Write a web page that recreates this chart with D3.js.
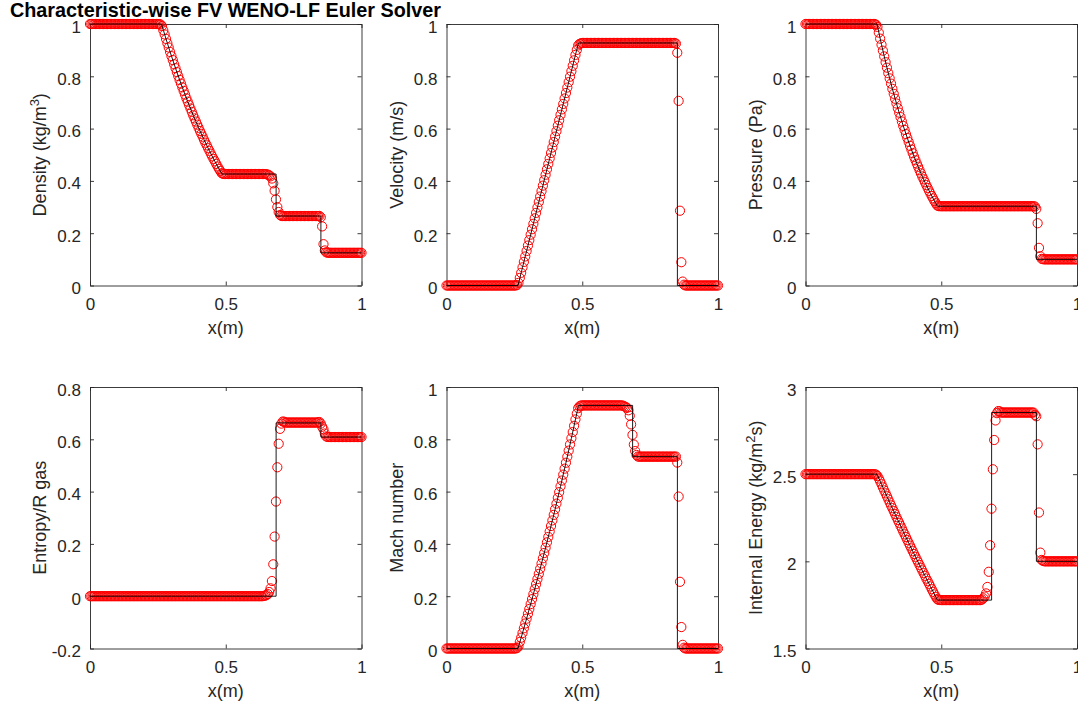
<!DOCTYPE html>
<html>
<head>
<meta charset="utf-8">
<script src="https://cdn.jsdelivr.net/npm/d3@7"></script>
<style>
  body { margin: 0; background: #fff; }
  svg { display: block; font-family: "Liberation Sans", Arial, Helvetica, sans-serif; }
</style>
</head>
<body>
<svg id="fig" width="1078" height="708"></svg>
<script>
// ---- numerical solution, 201 cells on x = 0..1 ----
var density = [
  1,1,1,1,1,1,1,1,1,1, 1,1,1,1,1,1,1,1,1,1, 1,1,1,1,1,1,1,1,1,1,
  1,1,1,1,1,1,1,1,1,1, 1,1,1,1,1,1,1,1,1,1, 1,1,
  0.998,0.992,0.976,0.960,0.943,0.926,0.910,0.893,0.877,0.862,
  0.846,0.831,0.816,0.801,0.786,0.772,0.758,0.744,0.730,0.716,
  0.703,0.690,0.677,0.664,0.651,0.639,0.627,0.615,0.603,0.591,
  0.580,0.569,0.557,0.546,0.536,0.525,0.515,0.504,0.494,0.484,
  0.475,0.465,0.455,0.446,0.438,0.4295,0.4268,0.4264,
  0.4263,0.4263,0.4263,0.4263,0.4263,0.4263,0.4263,0.4263,0.4263,0.4263,
  0.4263,0.4263,0.4263,0.4263,0.4263,0.4263,0.4263,0.4263,0.4263,0.4263,
  0.4263,0.4263,0.4263,0.4263,0.4263,0.4263,0.4263,0.4263,0.4263,0.4263,
  0.4254,0.4239,0.4214,0.4173,0.4090,0.3907,0.3623,0.3292,0.2998,0.2811,0.2699,0.2659,
  0.2656,0.2656,0.2656,0.2656,0.2656,0.2656,0.2656,0.2656,0.2656,0.2656,
  0.2656,0.2656,0.2656,0.2656,0.2656,0.2656,0.2656,0.2656,0.2656,0.2656,
  0.2656,0.2656,0.2656,0.2656,0.2656,0.2656,0.2656,
  0.266,0.261,0.226,0.158,0.134,0.127,0.1255,
  0.125,0.125,0.125,0.125,0.125,0.125,0.125,0.125,0.125,0.125,
  0.125,0.125,0.125,0.125,0.125,0.125,0.125,0.125,0.125,0.125,
  0.125,0.125,0.125,0.125,0.125
];
var velocity = [
  0,0,0,0,0,0,0,0,0,0, 0,0,0,0,0,0,0,0,0,0, 0,0,0,0,0,0,0,0,0,0,
  0,0,0,0,0,0,0,0,0,0, 0,0,0,0,0,0,0,0,0,0, 0,0,
  0.002,0.010,0.029,0.0485,0.0694,0.0902,0.1110,0.1319,0.1527,0.1735,
  0.1944,0.2152,0.2360,0.2569,0.2777,0.2985,0.3194,0.3402,0.3610,0.3819,
  0.4027,0.4235,0.4444,0.4652,0.4860,0.5069,0.5277,0.5485,0.5694,0.5902,
  0.6110,0.6319,0.6527,0.6735,0.6944,0.7152,0.7360,0.7569,0.7777,0.7985,
  0.8194,0.8402,0.8610,0.8819,0.9010,0.918,0.924,0.926,
  0.9275,0.9275,0.9275,0.9275,0.9275,0.9275,0.9275,0.9275,0.9275,0.9275,
  0.9275,0.9275,0.9275,0.9275,0.9275,0.9275,0.9275,0.9275,0.9275,0.9275,
  0.9275,0.9275,0.9275,0.9275,0.9275,0.9275,0.9275,0.9275,0.9275,0.9275,
  0.9275,0.9275,0.9275,0.9275,0.9275,0.9275,0.9275,0.9275,0.9275,0.9275,0.9275,0.9275,
  0.9275,0.9275,0.9275,0.9275,0.9275,0.9275,0.9275,0.9275,0.9275,0.9275,
  0.9275,0.9275,0.9275,0.9275,0.9275,0.9275,0.9275,0.9275,0.9275,0.9275,
  0.9275,0.9275,0.9275,0.9275,0.9275,0.9275,0.9275,
  0.925,0.890,0.706,0.286,0.089,0.015,0.003,
  0,0,0,0,0,0,0,0,0,0, 0,0,0,0,0,0,0,0,0,0, 0,0,0,0,0
];
var pressure = [
  1,1,1,1,1,1,1,1,1,1, 1,1,1,1,1,1,1,1,1,1, 1,1,1,1,1,1,1,1,1,1,
  1,1,1,1,1,1,1,1,1,1, 1,1,1,1,1,1,1,1,1,1, 1,1,
  0.997,0.989,0.967,0.944,0.921,0.898,0.876,0.854,0.833,0.812,
  0.792,0.772,0.752,0.733,0.714,0.696,0.678,0.661,0.644,0.627,
  0.610,0.595,0.579,0.564,0.549,0.534,0.520,0.506,0.492,0.479,
  0.466,0.454,0.441,0.429,0.417,0.406,0.395,0.384,0.373,0.362,
  0.352,0.342,0.333,0.323,0.3145,0.3062,0.3036,0.3032,
  0.3031,0.3031,0.3031,0.3031,0.3031,0.3031,0.3031,0.3031,0.3031,0.3031,
  0.3031,0.3031,0.3031,0.3031,0.3031,0.3031,0.3031,0.3031,0.3031,0.3031,
  0.3031,0.3031,0.3031,0.3031,0.3031,0.3031,0.3031,0.3031,0.3031,0.3031,
  0.3031,0.3031,0.3031,0.3031,0.3031,0.3031,0.3031,0.3031,0.3031,0.3031,0.3031,0.3031,
  0.3031,0.3031,0.3031,0.3031,0.3031,0.3031,0.3031,0.3031,0.3031,0.3031,
  0.3031,0.3031,0.3031,0.3031,0.3031,0.3031,0.3031,0.3031,0.3031,0.3031,
  0.3031,0.3031,0.3031,0.3031,0.3031,0.3031,0.3031,
  0.302,0.293,0.238,0.144,0.112,0.102,0.1005,
  0.1,0.1,0.1,0.1,0.1,0.1,0.1,0.1,0.1,0.1, 0.1,0.1,0.1,0.1,0.1,0.1,0.1,0.1,0.1,0.1,
  0.1,0.1,0.1,0.1,0.1
];
var entropy = [
  0,0,0,0,0,0,0,0,0,0, 0,0,0,0,0,0,0,0,0,0, 0,0,0,0,0,0,0,0,0,0,
  0,0,0,0,0,0,0,0,0,0, 0,0,0,0,0,0,0,0,0,0, 0,0,0,0,0,0,0,0,0,0,
  0,0,0,0,0,0,0,0,0,0, 0,0,0,0,0,0,0,0,0,0, 0,0,0,0,0,0,0,0,0,0,
  0,0,0,0,0,0,0,0,0,0, 0,0,0,0,0,0,0,0,0,0, 0,0,0,0,0,0,0,0,0,0,
  0,0,0,0,0,0,0,0,
  0.001,0.002,0.004,0.008,0.016,0.030,0.058,0.122,0.228,0.362,0.493,0.583,0.640,0.660,
  0.668,0.667,
  0.664,0.664,0.664,0.664,0.664,0.664,0.664,0.664,0.664,0.664,
  0.664,0.664,0.664,0.664,0.664,0.664,0.664,0.664,0.664,0.664,
  0.664,0.664,0.664,0.664,0.665,
  0.666,0.660,0.648,0.638,0.622,0.611,0.609,
  0.6086,0.6086,0.6086,0.6086,0.6086,0.6086,0.6086,0.6086,0.6086,0.6086,
  0.6086,0.6086,0.6086,0.6086,0.6086,0.6086,0.6086,0.6086,0.6086,0.6086,
  0.6086,0.6086,0.6086,0.6086,0.6086
];
var mach = [
  0,0,0,0,0,0,0,0,0,0, 0,0,0,0,0,0,0,0,0,0, 0,0,0,0,0,0,0,0,0,0,
  0,0,0,0,0,0,0,0,0,0, 0,0,0,0,0,0,0,0,0,0, 0,0,
  0.002,0.008,0.025,0.0413,0.0593,0.0774,0.0956,0.1140,0.1325,0.1511,
  0.1698,0.1887,0.2078,0.2269,0.2462,0.2657,0.2853,0.3050,0.3249,0.3450,
  0.3652,0.3855,0.4060,0.4267,0.4475,0.4685,0.4897,0.5109,0.5324,0.5541,
  0.5759,0.5979,0.6200,0.6423,0.6649,0.6876,0.7104,0.7335,0.7567,0.7802,
  0.8038,0.8276,0.8516,0.8759,0.898,0.919,0.926,0.929,
  0.9296,0.9296,0.9296,0.9296,0.9296,0.9296,0.9296,0.9296,0.9296,0.9296,
  0.9296,0.9296,0.9296,0.9296,0.9296,0.9296,0.9296,0.9296,0.9296,0.9296,
  0.9296,0.9296,0.9296,0.9296,0.9296,0.9296,0.9296,0.9296,0.9296,0.9296,
  0.9286,0.926,0.924,0.920,0.911,0.890,0.857,0.817,0.780,0.755,0.740,0.734,
  0.7337,0.7337,0.7337,0.7337,0.7337,0.7337,0.7337,0.7337,0.7337,0.7337,
  0.7337,0.7337,0.7337,0.7337,0.7337,0.7337,0.7337,0.7337,0.7337,0.7337,
  0.7337,0.7337,0.7337,0.7337,0.7337,0.7337,0.7337,
  0.734,0.711,0.581,0.255,0.082,0.014,0.003,
  0,0,0,0,0,0,0,0,0,0, 0,0,0,0,0,0,0,0,0,0, 0,0,0,0,0
];
var energy = [
  2.5,2.5,2.5,2.5,2.5,2.5,2.5,2.5,2.5,2.5, 2.5,2.5,2.5,2.5,2.5,2.5,2.5,2.5,2.5,2.5,
  2.5,2.5,2.5,2.5,2.5,2.5,2.5,2.5,2.5,2.5, 2.5,2.5,2.5,2.5,2.5,2.5,2.5,2.5,2.5,2.5,
  2.5,2.5,2.5,2.5,2.5,2.5,2.5,2.5,2.5,2.5, 2.5,2.5,
  2.497,2.489,2.475,2.459,2.442,2.424,2.407,2.390,2.373,2.356,
  2.338,2.321,2.305,2.288,2.271,2.254,2.237,2.221,2.204,2.188,
  2.171,2.155,2.139,2.122,2.106,2.090,2.074,2.058,2.042,2.026,
  2.010,1.995,1.979,1.963,1.948,1.932,1.917,1.901,1.886,1.871,
  1.856,1.840,1.825,1.810,1.7965,1.7835,1.779,1.778,
  1.7776,1.7776,1.7776,1.7776,1.7776,1.7776,1.7776,1.7776,1.7776,1.7776,
  1.7776,1.7776,1.7776,1.7776,1.7776,1.7776,1.7776,1.7776,1.7776,1.7776,
  1.7776,1.7776,1.7776,1.7776,1.7776,1.7776,1.7776,1.7776,1.7776,1.7776,
  1.781,1.788,1.798,1.816,1.853,1.940,2.092,2.302,2.528,2.696,2.808,2.850,
  2.862,2.860,
  2.8535,2.8535,2.8535,2.8535,2.8535,2.8535,2.8535,2.8535,2.8535,2.8535,
  2.8535,2.8535,2.8535,2.8535,2.8535,2.8535,2.8535,2.8535,2.8535,2.8535,
  2.8535,2.8535,2.8535,2.8535,2.8535,
  2.840,2.832,2.671,2.280,2.050,2.008,2.002,
  2,2,2,2,2,2,2,2,2,2, 2,2,2,2,2,2,2,2,2,2, 2,2,2,2,2
];

// ---- exact Riemann solution (black line), breakpoints ----
var exactX        = [0, 0.26336, 0.28, 0.30, 0.32, 0.34, 0.36, 0.38, 0.40, 0.42, 0.44, 0.46, 0.48, 0.48595, 0.68549, 0.68549, 0.85043, 0.85043, 1];
var exactDensity  = [1, 1, 0.9428, 0.8774, 0.8158, 0.7577, 0.7029, 0.6514, 0.6029, 0.5574, 0.5146, 0.4746, 0.4370, 0.4263, 0.4263, 0.2656, 0.2656, 0.125, 0.125];
var exactVelocity = [0, 0, 0.0694, 0.1527, 0.2360, 0.3194, 0.4027, 0.4860, 0.5694, 0.6527, 0.7360, 0.8194, 0.9027, 0.9275, 0.9275, 0.9275, 0.9275, 0, 0];
var exactPressure = [1, 1, 0.9208, 0.8327, 0.7520, 0.6781, 0.6105, 0.5488, 0.4925, 0.4412, 0.3945, 0.3522, 0.3138, 0.3031, 0.3031, 0.3031, 0.3031, 0.1, 0.1];
var exactEntropy  = [0, 0, 0, 0, 0, 0, 0, 0, 0, 0, 0, 0, 0, 0, 0, 0.6627, 0.6627, 0.6086, 0.6086];
var exactMach     = [0, 0, 0.0593, 0.1325, 0.2078, 0.2853, 0.3652, 0.4475, 0.5324, 0.6200, 0.7104, 0.8038, 0.9003, 0.9296, 0.9296, 0.7337, 0.7337, 0, 0];
var exactEnergy   = [2.5, 2.5, 2.4418, 2.3726, 2.3045, 2.2374, 2.1712, 2.1061, 2.0420, 1.9788, 1.9167, 1.8555, 1.7953, 1.7776, 1.7776, 2.8535, 2.8535, 2, 2];

// ---- axes ticks ----
var xTicks = [0, 0.5, 1];
var unitTicks = [0, 0.2, 0.4, 0.6, 0.8, 1];
var entropyTicks = [-0.2, 0, 0.2, 0.4, 0.6, 0.8];
var energyTicks = [1.5, 2, 2.5, 3];

var titleText = "Characteristic-wise FV WENO-LF Euler Solver";

var panels = [
  { vals: density,  exact: exactDensity,  col: 0, row: 0, yDomain: [0, 1],    yTicks: unitTicks,    label: ["Density (kg/m", "3", ")"] },
  { vals: velocity, exact: exactVelocity, col: 1, row: 0, yDomain: [0, 1],    yTicks: unitTicks,    label: ["Velocity (m/s)"] },
  { vals: pressure, exact: exactPressure, col: 2, row: 0, yDomain: [0, 1],    yTicks: unitTicks,    label: ["Pressure (Pa)"] },
  { vals: entropy,  exact: exactEntropy,  col: 0, row: 1, yDomain: [-0.2, 0.8], yTicks: entropyTicks, label: ["Entropy/R gas"] },
  { vals: mach,     exact: exactMach,     col: 1, row: 1, yDomain: [0, 1],    yTicks: unitTicks,    label: ["Mach number"] },
  { vals: energy,   exact: exactEnergy,   col: 2, row: 1, yDomain: [1.5, 3],  yTicks: energyTicks,  label: ["Internal Energy (kg/m", "2", "s)"] }
];

var colLeft = [90, 446.5, 805.5],
    rowTop = [24, 387],
    pw = 271.5,
    ph = 261.5,
    axisColor = "#262626",
    fontStack = "Liberation Sans, Arial, Helvetica, sans-serif";

var svg = d3.select("#fig");

svg.append("text")
  .attr("x", 10).attr("y", 17)
  .attr("font-weight", "bold")
  .attr("font-size", 19.8)
  .attr("fill", "#000")
  .text(titleText);

function styleAxis(g) {
  g.attr("font-family", fontStack).attr("font-size", 17);
  g.select(".domain").attr("stroke", axisColor).attr("stroke-width", 0.9);
  g.selectAll(".tick line").attr("stroke", axisColor).attr("stroke-width", 0.9);
  g.selectAll(".tick text").attr("fill", axisColor);
}

panels.forEach(function (p) {
  var x0 = colLeft[p.col], y0 = rowTop[p.row];
  var g = svg.append("g").attr("transform", "translate(" + x0 + "," + y0 + ")");

  var n = p.vals.length;
  var xGrid = d3.range(n).map(function (i) { return i / (n - 1); });

  var xScale = d3.scaleLinear().domain([0, 1]).range([0, pw]);
  var yScale = d3.scaleLinear().domain(p.yDomain).range([ph, 0]);

  // box with inward ticks on all four sides
  g.append("g").attr("transform", "translate(0," + ph + ")")
    .call(d3.axisBottom(xScale).tickValues(xTicks).tickFormat(function (d) { return String(d); })
      .tickSizeInner(-4).tickSizeOuter(0).tickPadding(12.5))
    .call(styleAxis);
  g.append("g")
    .call(d3.axisTop(xScale).tickValues(xTicks).tickFormat("").tickSizeInner(-4).tickSizeOuter(0))
    .call(styleAxis);
  g.append("g")
    .call(d3.axisLeft(yScale).tickValues(p.yTicks).tickFormat(function (d) { return String(d); })
      .tickSizeInner(-4).tickSizeOuter(0).tickPadding(9))
    .call(styleAxis)
    .selectAll(".tick text").attr("dy", "0.47em");
  g.append("g").attr("transform", "translate(" + pw + ",0)")
    .call(d3.axisRight(yScale).tickValues(p.yTicks).tickFormat("").tickSizeInner(-4).tickSizeOuter(0))
    .call(styleAxis);

  // numerical solution: red open circles
  g.append("g").selectAll("circle")
    .data(p.vals)
    .enter()
    .append("circle")
    .attr("cx", function (d, i) { return xScale(xGrid[i]); })
    .attr("cy", function (d) { return yScale(d); })
    .attr("r", 4.6)
    .attr("fill", "none")
    .attr("stroke", "#ff0000")
    .attr("stroke-width", 1);

  // exact solution: thin black line
  var line = d3.line()
    .x(function (d, i) { return xScale(exactX[i]); })
    .y(function (d) { return yScale(d); });
  g.append("path")
    .datum(p.exact)
    .attr("d", line)
    .attr("fill", "none")
    .attr("stroke", "#000")
    .attr("stroke-width", 0.9);

  // x label
  g.append("text")
    .attr("x", pw / 2).attr("y", ph + 48.5)
    .attr("text-anchor", "middle")
    .attr("font-size", 18)
    .attr("fill", axisColor)
    .text("x(m)");

  // y label (rotated, with optional superscript)
  var yl = g.append("text")
    .attr("transform", "translate(-44," + (ph / 2) + ") rotate(-90)")
    .attr("text-anchor", "middle")
    .attr("font-size", 18)
    .attr("fill", axisColor);
  yl.append("tspan").text(p.label[0]);
  if (p.label.length > 1) {
    yl.append("tspan").attr("dy", -7).attr("font-size", 13).text(p.label[1]);
    yl.append("tspan").attr("dy", 7).text(p.label[2]);
  }

  if (n !== 201) console.error("series length", n);
});
</script>
</body>
</html>
